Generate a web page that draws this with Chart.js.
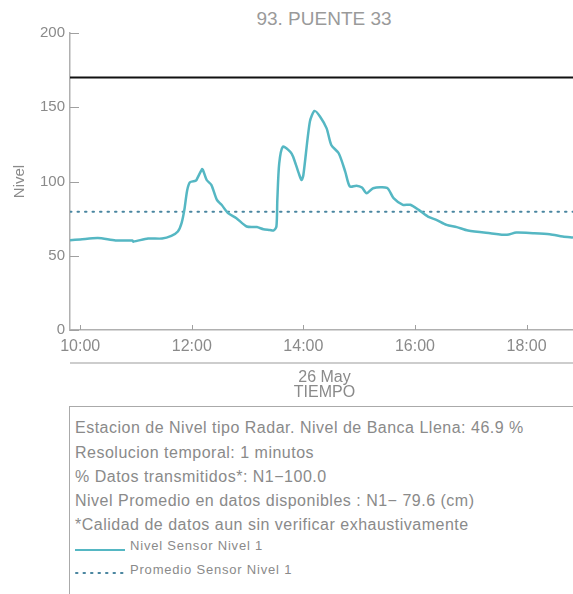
<!DOCTYPE html>
<html>
<head>
<meta charset="utf-8">
<script src="https://cdn.jsdelivr.net/npm/chart.js@4/dist/chart.umd.min.js"></script>
<style>
html, body { margin: 0; padding: 0; background: #fff; }
body { width: 573px; height: 594px; position: relative; overflow: hidden; font-family: "Liberation Sans", Arial, sans-serif; color: #8a8a8a; }
#wrap { position: absolute; left: 0; top: 0; width: 573px; height: 405px; }
#title { position: absolute; left: 174px; width: 300px; top: 8px; line-height: 22px; text-align: center; font-size: 19px; color: #9a9a9a; white-space: nowrap; }
#info { position: absolute; left: 69px; top: 406px; width: 520px; height: 200px; border: 1.5px solid #aaa; }
.row { position: absolute; left: 75px; font-size: 16px; line-height: 24px; letter-spacing: 0.5px; white-space: nowrap; }
.leg { position: absolute; left: 130px; font-size: 13px; line-height: 16px; letter-spacing: 0.8px; white-space: nowrap; }
.sym { position: absolute; left: 75px; }
</style>
</head>
<body>
<div id="title">93. PUENTE 33</div>
<div id="wrap"><canvas id="myChart"></canvas></div>
<div id="info"></div>
<div class="row" style="top:416px">Estacion de Nivel tipo Radar. Nivel de Banca Llena: 46.9 %</div>
<div class="row" style="top:441px">Resolucion temporal: 1 minutos</div>
<div class="row" style="top:465px">% Datos transmitidos*: N1&minus;100.0</div>
<div class="row" style="top:489px">Nivel Promedio en datos disponibles : N1&minus; 79.6 (cm)</div>
<div class="row" style="top:513px">*Calidad de datos aun sin verificar exhaustivamente</div>
<svg class="sym" style="top:545px" width="52" height="10"><line x1="0" y1="5" x2="50" y2="5" stroke="#55b7c3" stroke-width="2"/></svg>
<div class="leg" style="top:538px">Nivel Sensor Nivel 1</div>
<svg class="sym" style="top:568px" width="52" height="10"><line x1="1" y1="5" x2="50" y2="5" stroke="#4a86a0" stroke-width="2" stroke-dasharray="1.5 6" stroke-linecap="round"/></svg>
<div class="leg" style="top:562px">Promedio Sensor Nivel 1</div>

<script>
const times = ['09:49','10:00','10:19','10:38','10:56','10:57','11:13','11:28','11:38','11:45',
  '11:49','11:52','11:55','11:58','12:04','12:05','12:11','12:12','12:16','12:21',
  '12:27','12:32','12:39','12:48','12:59','13:10','13:17','13:24','13:28','13:31',
  '13:32','13:34','13:38','13:46','13:49','13:55','13:58','14:00','14:07','14:12',
  '14:18','14:25','14:30','14:38','14:45','14:50','14:57','15:03','15:08','15:15',
  '15:30','15:37','15:47','15:55','16:04','16:14','16:23','16:34','16:45','16:57',
  '17:21','17:39','17:49','18:07','18:25','18:39','18:50'];
const nivel = [60.5, 61, 61.9, 60.3, 60.3, 59.5, 61.6, 61.6, 63.4, 66.3,
  72, 81, 94, 99.5, 100.5, 101, 108.3, 107.8, 101, 97.7,
  87.6, 84.3, 78.7, 75.3, 69.7, 69.3, 67.9, 67.4, 67, 69.7,
  87.6, 112, 123.5, 120, 116.7, 105.6, 101, 104.4, 140.3, 147.5,
  143.6, 135.8, 124.6, 119, 106.7, 96.6, 97.2, 95.9, 92.1, 95.5,
  95.7, 88.8, 84.3, 84.3, 80.9, 76.4, 74.2, 70.8, 69.3, 67,
  65.2, 64.1, 65.6, 65.2, 64.5, 63, 62.3];
const promedio = 79.6;
const bancaLlena = 170;
const yTicks = [0, 50, 100, 150, 200];
const xTicks = ['10:00', '12:00', '14:00', '16:00', '18:00'];

const toMin = t => { const p = t.split(':').map(Number); return p[0] * 60 + p[1]; };
const fmt = v => String(Math.floor(v / 60)).padStart(2, '0') + ':' + String(v % 60).padStart(2, '0');

const xMin = toMin(times[0]);
const xMax = toMin(times[times.length - 1]);
const gray = '#8a8a8a';

// inner tick marks, separator line and axis captions
const axisDecor = {
  id: 'axisDecor',
  afterDraw(chart) {
    const { ctx, chartArea: a, scales: { x, y } } = chart;
    ctx.save();
    ctx.strokeStyle = '#a0a0a0';
    ctx.lineWidth = 1;
    ctx.beginPath();
    y.ticks.forEach(t => {
      const py = Math.round(y.getPixelForValue(t.value)) + 0.5;
      ctx.moveTo(a.left, py); ctx.lineTo(a.left + 9, py);
    });
    x.ticks.forEach(t => {
      const px = Math.round(x.getPixelForValue(t.value)) + 0.5;
      ctx.moveTo(px, a.bottom); ctx.lineTo(px, a.bottom - 5);
    });
    ctx.stroke();

    ctx.strokeStyle = '#bdbdbd';
    ctx.lineWidth = 1.5;
    ctx.beginPath();
    ctx.moveTo(a.left, 363); ctx.lineTo(chart.width, 363);
    ctx.stroke();

    ctx.fillStyle = gray;
    ctx.textAlign = 'center';
    ctx.textBaseline = 'middle';
    ctx.font = '16px "Liberation Sans"';
    const cx = (a.left + a.right) / 2 + 3;
    ctx.fillText('26 May', cx, 378);
    ctx.fillText('TIEMPO', cx, 393);

    ctx.translate(20, (a.top + a.bottom) / 2);
    ctx.rotate(-Math.PI / 2);
    ctx.font = '15px "Liberation Sans"';
    ctx.fillText('Nivel', 0, 0);
    ctx.restore();
  }
};

const ctx = document.getElementById('myChart').getContext('2d');
new Chart(ctx, {
  type: 'line',
  data: {
    datasets: [
      {
        label: 'Nivel Sensor Nivel 1',
        data: times.map((t, i) => ({ x: toMin(t), y: nivel[i] })),
        borderColor: '#55b7c3',
        borderWidth: 2.5,
        pointRadius: 0,
        tension: 0.25,
      },
      {
        label: 'Promedio Sensor Nivel 1',
        data: [{ x: xMin, y: promedio }, { x: xMax, y: promedio }],
        borderColor: '#4a86a0',
        borderWidth: 2,
        borderDash: [1.5, 6],
        borderCapStyle: 'round',
        pointRadius: 0,
      },
      {
        label: 'Banca llena',
        data: [{ x: xMin, y: bancaLlena }, { x: xMax, y: bancaLlena }],
        borderColor: '#111',
        borderWidth: 2,
        pointRadius: 0,
      },
    ],
  },
  options: {
    responsive: true,
    maintainAspectRatio: false,
    animation: false,
    layout: { padding: { top: 33, left: 0, right: 0, bottom: 0 } },
    plugins: { legend: { display: false }, tooltip: { enabled: false } },
    scales: {
      x: {
        type: 'linear',
        min: xMin,
        max: xMax,
        afterFit: s => { s.height = 75; },
        afterBuildTicks: s => { s.ticks = xTicks.map(t => ({ value: toMin(t) })); },
        grid: { display: false, drawTicks: false },
        border: { color: '#b0b0b0', width: 1.5 },
        ticks: { color: gray, padding: 7, font: { size: 16, family: 'Liberation Sans' }, callback: v => fmt(v), maxRotation: 0 },
      },
      y: {
        min: 0,
        max: 200,
        afterFit: s => { s.width = 70; },
        afterBuildTicks: s => { s.ticks = yTicks.map(v => ({ value: v })); },
        grid: { display: false, drawTicks: false },
        border: { color: '#b0b0b0', width: 1.5 },
        ticks: { color: gray, padding: 5, font: { size: 15, family: 'Liberation Sans' } },
      },
    },
  },
  plugins: [axisDecor],
});
</script>
</body>
</html>
